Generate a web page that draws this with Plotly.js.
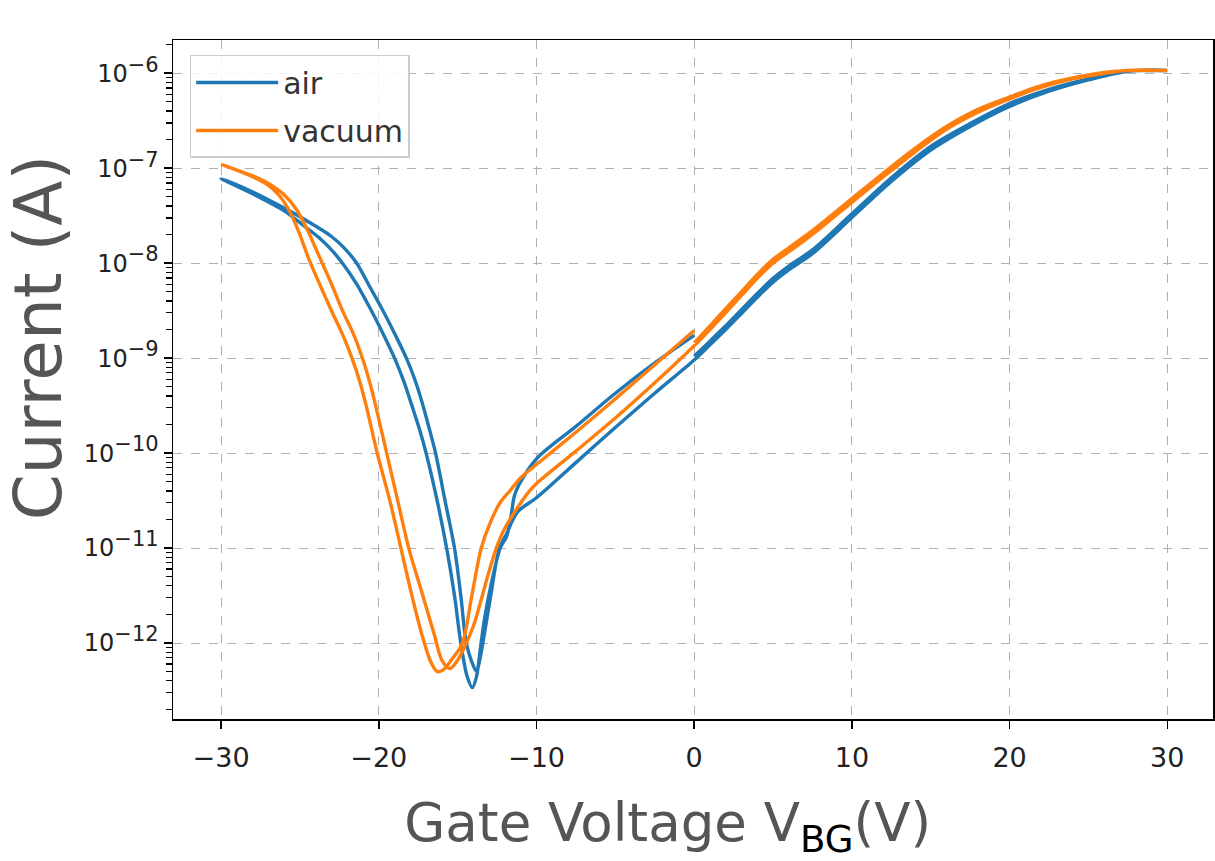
<!DOCTYPE html>
<html>
<head>
<meta charset="utf-8">
<script src="https://cdn.plot.ly/plotly-3.0.1.min.js"></script>
<style>html,body{margin:0;padding:0;background:#fff;}#chart{width:1215px;height:861px;}</style>
</head>
<body>
<div id="chart"></div>
<script>
// ---------- data (gate voltage in V, current in A) ----------
// AIR: sweep 1 (0 -> 30)
const airV1 = [0, 1, 2, 3, 4, 5, 6, 7.5, 10, 12.5, 15, 17.5, 20, 22.5, 25, 27.5, 30];
const airI1 = [1.05e-9, 1.51e-9, 2.19e-9, 3.24e-9, 4.79e-9, 6.92e-9, 9.33e-9, 1.38e-8, 3.31e-8, 7.94e-8, 1.70e-7, 2.95e-7, 4.79e-7, 6.76e-7, 8.71e-7, 1.05e-6, 1.07e-6];
// AIR: sweep 2 (30 -> -30)
const airV2 = [30, 27.5, 25, 22.5, 20, 17.5, 15, 12.5, 10, 7.5, 6, 5, 4, 3, 2, 1, 0,
  -2.5, -5, -7.5, -10, -11.2, -11.9, -12.35, -12.9, -13.4, -13.65, -13.8, -14.1, -14.45, -14.8, -15.2, -15.8, -16.4, -16.9, -17.3, -17.75, -18.25, -19.0, -19.8, -20.6, -21.4, -22.2, -23.0, -24.5, -26.0, -28.0, -30];
const airI2 = [1.07e-6, 1.05e-6, 8.51e-7, 6.46e-7, 4.47e-7, 2.75e-7, 1.55e-7, 7.24e-8, 3.02e-8, 1.26e-8, 8.51e-9, 6.31e-9, 4.37e-9, 2.95e-9, 2.00e-9, 1.38e-9, 9.55e-10,
  4.27e-10, 1.86e-10, 7.94e-11, 3.39e-11, 2.40e-11, 1.41e-11, 1.00e-11, 3.16e-12, 1.00e-12, 6.03e-13, 5.01e-13, 6.31e-13, 1.00e-12, 3.16e-12, 1.00e-11, 3.16e-11, 1.00e-10, 2.09e-10, 3.63e-10, 6.17e-10, 1.00e-9, 1.82e-9, 3.31e-9, 5.75e-9, 1.00e-8, 1.45e-8, 1.91e-8, 2.75e-8, 3.80e-8, 5.62e-8, 7.76e-8];
// AIR: sweep 3 (-30 -> 0)
const airV3 = [-30, -28, -26, -24.8, -23.8, -23.0, -22.3, -21.4, -20.6, -19.8, -19.0, -18.4, -17.9, -17.4, -17.0, -16.3, -15.7, -15.2, -14.8, -14.4, -14.07, -13.8, -13.55, -13.3, -12.9, -12.3, -11.9, -11.65, -11.4, -11.1, -10, -7.5, -5, -2.5, 0];
const airI3 = [7.76e-8, 5.37e-8, 3.55e-8, 2.51e-8, 1.86e-8, 1.38e-8, 1.00e-8, 6.03e-9, 3.47e-9, 1.91e-9, 1.00e-9, 5.62e-10, 3.16e-10, 1.74e-10, 1.00e-10, 3.16e-11, 1.00e-11, 3.16e-12, 1.00e-12, 4.47e-13, 3.39e-13, 4.47e-13, 8.91e-13, 1.78e-12, 3.98e-12, 1.00e-11, 1.32e-11, 2.00e-11, 3.55e-11, 4.68e-11, 8.71e-11, 1.91e-10, 4.27e-10, 8.91e-10, 1.74e-9];

// VACUUM: sweep 1 (0 -> 30)
const vacV1 = [0, 1, 2, 3, 4, 5, 6, 7, 8, 10, 12, 14, 16, 18, 20, 22, 24, 26, 27.5, 30];
const vacI1 = [1.45e-9, 2.19e-9, 3.31e-9, 5.01e-9, 7.59e-9, 1.10e-8, 1.45e-8, 1.91e-8, 2.57e-8, 4.79e-8, 8.91e-8, 1.62e-7, 2.75e-7, 4.17e-7, 5.62e-7, 7.41e-7, 8.91e-7, 1.02e-6, 1.07e-6, 1.07e-6];
// VACUUM: sweep 2 (30 -> -30)
const vacV2 = [30, 27.5, 26, 24, 22, 20, 18, 16, 14, 12, 10, 8, 7, 6, 5, 4, 3, 2, 1, 0,
  -2.5, -5, -7.5, -10, -10.45, -11.5, -12.1, -12.55, -13.1, -13.6, -14.0, -14.45, -15.0, -15.5, -16.0, -16.5, -17.3, -18.1, -18.8, -19.5, -20.2, -20.55, -21.0, -21.6, -22.3, -23.0, -23.8, -24.5, -25.2, -26.0, -27.0, -28.0, -29.0, -30];
const vacI2 = [1.07e-6, 1.07e-6, 1.00e-6, 8.71e-7, 7.08e-7, 5.37e-7, 3.89e-7, 2.57e-7, 1.48e-7, 8.13e-8, 4.37e-8, 2.34e-8, 1.74e-8, 1.32e-8, 1.00e-8, 6.92e-9, 4.57e-9, 3.02e-9, 2.00e-9, 1.35e-9,
  5.50e-10, 2.34e-10, 1.05e-10, 4.79e-11, 3.98e-11, 2.24e-11, 1.51e-11, 1.00e-11, 5.01e-12, 2.51e-12, 1.51e-12, 1.00e-12, 6.61e-13, 5.37e-13, 6.61e-13, 1.26e-12, 3.55e-12, 1.00e-11, 3.16e-11, 1.00e-10, 3.16e-10, 5.37e-10, 9.55e-10, 1.78e-9, 3.16e-9, 6.03e-9, 1.20e-8, 2.19e-8, 3.63e-8, 5.25e-8, 6.92e-8, 8.32e-8, 9.55e-8, 1.10e-7];
// VACUUM: sweep 3 (-30 -> 0)
const vacV3 = [-30, -29, -28, -27, -26.3, -25.7, -25.1, -24.4, -23.7, -23.0, -22.3, -21.7, -21.2, -20.8, -20.1, -19.3, -18.6, -17.9, -17.2, -16.7, -16.3, -15.9, -15.4, -14.7, -14.1, -13.5, -12.9, -12.3, -11.7, -11.0, -10, -7.5, -5, -2.5, 0];
const vacI3 = [1.10e-7, 9.55e-8, 8.13e-8, 6.61e-8, 5.13e-8, 3.63e-8, 2.19e-8, 1.07e-8, 5.75e-9, 3.16e-9, 1.78e-9, 1.00e-9, 5.62e-10, 3.16e-10, 1.00e-10, 3.16e-11, 1.00e-11, 3.16e-12, 1.12e-12, 6.31e-13, 5.01e-13, 5.25e-13, 6.61e-13, 1.00e-12, 3.16e-12, 1.00e-11, 1.91e-11, 3.02e-11, 3.98e-11, 5.50e-11, 7.59e-11, 1.66e-10, 3.72e-10, 8.51e-10, 1.95e-9];

const seriesNames = ['air', 'vacuum'];
const seriesColors = ['#1f77b4', '#ff7f0e'];
const xTicks = [-30, -20, -10, 0, 10, 20, 30];
const yTickVals = [1e-12, 1e-11, 1e-10, 1e-9, 1e-8, 1e-7, 1e-6];
const yTickExp = ['−12', '−11', '−10', '−9', '−8', '−7', '−6'];
const minorMultipliers = [2, 3, 4, 5, 6, 7, 8, 9];

// ---------- build traces ----------
const airX = airV1.concat(airV2.slice(1), airV3.slice(1));
const airY = airI1.concat(airI2.slice(1), airI3.slice(1));
const vacX = vacV1.concat(vacV2.slice(1), vacV3.slice(1));
const vacY = vacI1.concat(vacI2.slice(1), vacI3.slice(1));
const yTickText = yTickExp.map(e => '10<sup><span style="font-size:21px">' + e + '</span></sup>');

// minor log tick positions (axis decoration only)
const minorVals = [];
[1e-13].concat(yTickVals).forEach(d => minorMultipliers.forEach(m => minorVals.push(m * d)));

const yRange = [-12.8, -5.65];
const traces = [
  {x: airX, y: airY, name: seriesNames[0], type: 'scatter', mode: 'lines', legendgroup: 'a',
   line: {color: seriesColors[0], width: 3.4, shape: 'spline', smoothing: 0.9}},
  // vacuum is drawn on the overlaid (identical) log axis that carries the minor ticks
  {x: vacX, y: vacY, name: seriesNames[1], type: 'scatter', mode: 'lines', legendgroup: 'b', yaxis: 'y2',
   line: {color: seriesColors[1], width: 3.4, shape: 'spline', smoothing: 0.9}}
];

const layout = {
  width: 1215, height: 861,
  margin: {l: 173, r: 2, t: 40, b: 142},
  paper_bgcolor: '#fff', plot_bgcolor: '#fff',
  showlegend: true,
  legend: {x: 0.016, y: 0.978, xanchor: 'left', yanchor: 'top',
    bgcolor: 'rgba(255,255,255,0.85)', bordercolor: '#cccccc', borderwidth: 1.5,
    font: {family: 'DejaVu Sans, sans-serif', size: 30, color: '#333'},
    traceorder: 'grouped', tracegroupgap: 6, itemwidth: 82},
  xaxis: {
    range: [-33.05, 32.9], tickmode: 'array', tickvals: xTicks,
    showline: true, mirror: true, linecolor: '#000', linewidth: 1.5,
    ticks: 'outside', ticklen: 8, tickwidth: 1.5, tickcolor: '#000', ticklabelstandoff: 6,
    showgrid: true, gridcolor: '#b0b0b0', griddash: 'dash', gridwidth: 1,
    zeroline: false, tickfont: {family: 'DejaVu Sans, sans-serif', size: 27, color: '#222'},
    title: {text: 'Gate Voltage V<sub><span style="fill:#000">BG</span></sub>(V)&nbsp;&nbsp;&nbsp;', standoff: 38,
      font: {family: 'DejaVu Sans, sans-serif', size: 53, color: '#555'}}
  },
  yaxis: {
    type: 'log', range: yRange, tickmode: 'array', tickvals: yTickVals, ticktext: yTickText,
    showline: true, mirror: true, linecolor: '#000', linewidth: 1.5,
    ticks: 'outside', ticklen: 8, tickwidth: 1.5, tickcolor: '#000',
    showgrid: true, gridcolor: '#b0b0b0', griddash: 'dash', gridwidth: 1,
    zeroline: false, tickfont: {family: 'DejaVu Sans, sans-serif', size: 24, color: '#222'},
    title: {text: '&nbsp;&nbsp;&nbsp;&nbsp;Current (A)', standoff: 54,
      font: {family: 'DejaVu Sans, sans-serif', size: 66, color: '#555'}}
  },
  yaxis2: {
    type: 'log', range: yRange, overlaying: 'y', side: 'left', anchor: 'x',
    tickmode: 'array', tickvals: minorVals, ticks: 'outside', ticklen: 6, tickwidth: 1.3, tickcolor: '#000',
    showticklabels: false, showgrid: false, zeroline: false, showline: false
  }
};

Plotly.newPlot('chart', traces, layout, {displayModeBar: false, staticPlot: true});
</script>
</body>
</html>
